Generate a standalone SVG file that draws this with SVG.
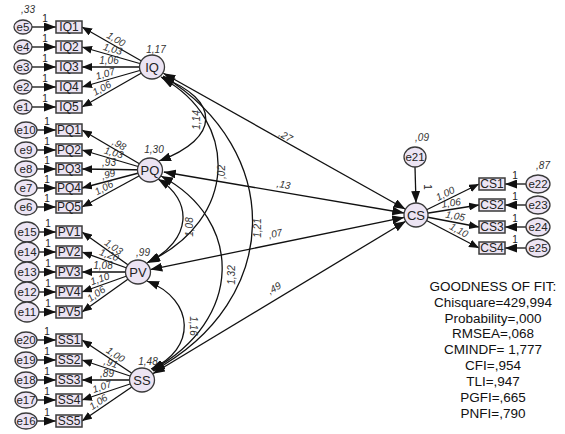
<svg xmlns="http://www.w3.org/2000/svg" width="565" height="434" viewBox="0 0 565 434">
  <style>
    .box { fill: #ECE4F3; stroke: #3a3a3a; stroke-width: 1.5; }
    .lat { fill: #ECE4F3; stroke: #3a3a3a; stroke-width: 1.3; }
    .err { fill: #ECE4F3; stroke: #3a3a3a; stroke-width: 1.3; }
    .lbl { font-family: "Liberation Sans", Arial, sans-serif; font-size: 12px; fill: #222; text-anchor: middle; dominant-baseline: central; }
    .lbl-lat { font-family: "Liberation Sans", Arial, sans-serif; font-size: 13px; fill: #222; text-anchor: middle; dominant-baseline: central; }
    .lbl-err { font-family: "Liberation Sans", Arial, sans-serif; font-size: 11.5px; fill: #222; text-anchor: middle; dominant-baseline: central; }
    .est { font-family: "Liberation Sans", Arial, sans-serif; font-size: 10px; font-style: italic; fill: #333; text-anchor: middle; }
    .one { font-family: "Liberation Sans", Arial, sans-serif; font-size: 10px; fill: #222; text-anchor: middle; }
    .fit { font-family: "Liberation Sans", Arial, sans-serif; font-size: 13.5px; fill: #111; text-anchor: middle; }
    .edge { fill: none; stroke: #111; stroke-width: 1.3; }
  </style>
  <defs>
    <marker id="head" viewBox="0 0 10 8" refX="10" refY="4" markerWidth="10" markerHeight="8" markerUnits="userSpaceOnUse" orient="auto-start-reverse">
      <path d="M0,0 L10,4 L0,8 z" fill="#111"/>
    </marker>
    <marker id="bighead" viewBox="0 0 12 9" refX="12" refY="4.5" markerWidth="12" markerHeight="9" markerUnits="userSpaceOnUse" orient="auto-start-reverse">
      <path d="M0,0 L12,4.5 L0,9 z" fill="#111"/>
    </marker>
  </defs>

  <!-- connectors -->
  <g id="connectors">
    <!-- error -> indicator -->
    <g class="edge" marker-end="url(#bighead)">
      <line x1="32" y1="27" x2="56" y2="27"/>
      <line x1="32" y1="47" x2="56" y2="47"/>
      <line x1="32" y1="67" x2="56" y2="67"/>
      <line x1="32" y1="87" x2="56" y2="87"/>
      <line x1="32" y1="107" x2="56" y2="107"/>
      <line x1="37" y1="130" x2="56" y2="130"/>
      <line x1="37" y1="150" x2="56" y2="150"/>
      <line x1="37" y1="169" x2="56" y2="169"/>
      <line x1="37" y1="188" x2="56" y2="188"/>
      <line x1="37" y1="207" x2="56" y2="207"/>
      <line x1="39" y1="232" x2="56" y2="232"/>
      <line x1="39" y1="252" x2="56" y2="252"/>
      <line x1="39" y1="272" x2="56" y2="272"/>
      <line x1="39" y1="292" x2="56" y2="292"/>
      <line x1="39" y1="312" x2="56" y2="312"/>
      <line x1="37" y1="340" x2="56" y2="340"/>
      <line x1="37" y1="360" x2="56" y2="360"/>
      <line x1="37" y1="380" x2="56" y2="380"/>
      <line x1="37" y1="400" x2="56" y2="400"/>
      <line x1="37" y1="421" x2="56" y2="421"/>
      <line x1="526" y1="184" x2="505" y2="184"/>
      <line x1="526" y1="205" x2="505" y2="205"/>
      <line x1="526" y1="227" x2="505" y2="227"/>
      <line x1="526" y1="248" x2="505" y2="248"/>
      <line x1="415" y1="167" x2="416" y2="203"/>
    </g>
    <!-- latent -> indicator -->
    <g class="edge" marker-end="url(#head)">
      <line x1="152" y1="67" x2="82" y2="27"/>
      <line x1="152" y1="67" x2="82" y2="47"/>
      <line x1="152" y1="67" x2="82" y2="67"/>
      <line x1="152" y1="67" x2="82" y2="87"/>
      <line x1="152" y1="67" x2="82" y2="107"/>
      <line x1="150" y1="170" x2="82" y2="130"/>
      <line x1="150" y1="170" x2="82" y2="150"/>
      <line x1="150" y1="170" x2="82" y2="169"/>
      <line x1="150" y1="170" x2="82" y2="188"/>
      <line x1="150" y1="170" x2="82" y2="207"/>
      <line x1="138" y1="272" x2="82" y2="232"/>
      <line x1="138" y1="272" x2="82" y2="252"/>
      <line x1="138" y1="272" x2="82" y2="272"/>
      <line x1="138" y1="272" x2="82" y2="292"/>
      <line x1="138" y1="272" x2="82" y2="312"/>
      <line x1="142" y1="380" x2="82" y2="340"/>
      <line x1="142" y1="380" x2="82" y2="360"/>
      <line x1="142" y1="380" x2="82" y2="380"/>
      <line x1="142" y1="380" x2="82" y2="400"/>
      <line x1="142" y1="380" x2="82" y2="421"/>
      <line x1="416" y1="215" x2="479" y2="184"/>
      <line x1="416" y1="215" x2="479" y2="205"/>
      <line x1="416" y1="215" x2="479" y2="227"/>
      <line x1="416" y1="215" x2="479" y2="248"/>
    </g>
    <!-- CS <-> latent paths -->
    <g class="edge" marker-start="url(#bighead)" marker-end="url(#bighead)">
      <line x1="405.5" y1="209.2" x2="163.4" y2="73.3"/>
      <line x1="404.2" y1="213.0" x2="163.8" y2="172.0"/>
      <line x1="404.2" y1="217.4" x2="150.3" y2="269.6"/>
      <line x1="405.7" y1="221.2" x2="152.8" y2="373.8"/>
    </g>
    <!-- covariances -->
    <g class="edge" marker-start="url(#bighead)" marker-end="url(#bighead)">
      <path d="M161,77 C221,100 221,138 159,161"/>
      <path d="M162,78 C239,120 239,220 148,262"/>
      <path d="M163,76 C284,150 284,300 153,371"/>
      <path d="M158,179 C193,200 193,240 147,263"/>
      <path d="M161,176 C244,220 244,320 152,370"/>
      <path d="M147,281 C196,300 196,350 151,369"/>
    </g>
    <!-- estimates on connectors -->
    <g class="est">
      <text transform="translate(113,44.7) rotate(29.7)" y="-3">1,00</text>
      <text transform="translate(111,55.3) rotate(15.9)" y="-3">1,03</text>
      <text transform="translate(109,67)" y="-3">1,06</text>
      <text transform="translate(107,79.9) rotate(-15.9)" y="-3">1,07</text>
      <text transform="translate(105,93.9) rotate(-29.7)" y="-3">1,06</text>

      <text transform="translate(116,150) rotate(30.5)" y="-3">,98</text>
      <text transform="translate(112,158.8) rotate(16.4)" y="-3">1,03</text>
      <text transform="translate(109,169)" y="-3">,93</text>
      <text transform="translate(110,180.6) rotate(-14.8)" y="-3">,99</text>
      <text transform="translate(107,193.4) rotate(-28.6)" y="-3">1,06</text>

      <text transform="translate(110,252) rotate(35.5)" y="-3">1,03</text>
      <text transform="translate(107,260.9) rotate(19.7)" y="-3">1,20</text>
      <text transform="translate(103,272)" y="-3">1,08</text>
      <text transform="translate(102,284.9) rotate(-19.7)" y="-3">1,10</text>
      <text transform="translate(100,299.1) rotate(-35.5)" y="-3">1,06</text>

      <text transform="translate(112,360) rotate(33.7)" y="-3">1,00</text>
      <text transform="translate(109,369) rotate(18.4)" y="-3">,91</text>
      <text transform="translate(107,380)" y="-3">,89</text>
      <text transform="translate(104,392.7) rotate(-18.4)" y="-3">1,07</text>
      <text transform="translate(102,407.3) rotate(-34.3)" y="-3">1,06</text>

      <text transform="translate(448,199.3) rotate(-26.2)" y="-3">1,00</text>
      <text transform="translate(452,209.3) rotate(-9)" y="-3">1,06</text>
      <text transform="translate(454,222.2) rotate(10.8)" y="-3">1,05</text>
      <text transform="translate(456,236) rotate(27.6)" y="-3">1,10</text>

      <text transform="translate(284,139) rotate(29)">,27</text>
      <text transform="translate(283,188) rotate(9.6)">,13</text>
      <text transform="translate(276,237) rotate(-11.6)">,07</text>
      <text transform="translate(276,291) rotate(-31)">,49</text>

      <text transform="translate(200,120) rotate(-90)">1,14</text>
      <text transform="translate(225,172) rotate(-90)">,02</text>
      <text transform="translate(261,228) rotate(-90)">1,21</text>
      <text transform="translate(193,227) rotate(-90)">1,08</text>
      <text transform="translate(235,275) rotate(-90)">1,32</text>
      <text transform="translate(190,326) rotate(90)">1,16</text>
    </g>
    <!-- fixed weights -->
    <g class="one">
      <text x="45" y="22">1</text>
      <text x="45" y="42">1</text>
      <text x="45" y="62">1</text>
      <text x="45" y="82">1</text>
      <text x="45" y="102">1</text>
      <text x="47" y="125">1</text>
      <text x="47" y="145">1</text>
      <text x="47" y="164">1</text>
      <text x="47" y="183">1</text>
      <text x="47" y="202">1</text>
      <text x="48" y="227">1</text>
      <text x="48" y="247">1</text>
      <text x="48" y="267">1</text>
      <text x="48" y="287">1</text>
      <text x="48" y="307">1</text>
      <text x="47" y="335">1</text>
      <text x="47" y="355">1</text>
      <text x="47" y="375">1</text>
      <text x="47" y="395">1</text>
      <text x="47" y="416">1</text>
      <text x="515" y="179">1</text>
      <text x="515" y="200">1</text>
      <text x="515" y="222">1</text>
      <text x="515" y="243">1</text>
      <text transform="translate(424,187) rotate(90)">1</text>
    </g>
  </g>

  <!-- indicators -->
  <g id="IQ1"><rect class="box" x="56" y="21" width="26" height="12"/><text class="lbl" x="69" y="27">IQ1</text></g>
  <g id="IQ2"><rect class="box" x="56" y="41" width="26" height="12"/><text class="lbl" x="69" y="47">IQ2</text></g>
  <g id="IQ3"><rect class="box" x="56" y="61" width="26" height="12"/><text class="lbl" x="69" y="67">IQ3</text></g>
  <g id="IQ4"><rect class="box" x="56" y="81" width="26" height="12"/><text class="lbl" x="69" y="87">IQ4</text></g>
  <g id="IQ5"><rect class="box" x="56" y="101" width="26" height="12"/><text class="lbl" x="69" y="107">IQ5</text></g>
  <g id="PQ1"><rect class="box" x="56" y="124" width="26" height="12"/><text class="lbl" x="69" y="130">PQ1</text></g>
  <g id="PQ2"><rect class="box" x="56" y="144" width="26" height="12"/><text class="lbl" x="69" y="150">PQ2</text></g>
  <g id="PQ3"><rect class="box" x="56" y="163" width="26" height="12"/><text class="lbl" x="69" y="169">PQ3</text></g>
  <g id="PQ4"><rect class="box" x="56" y="182" width="26" height="12"/><text class="lbl" x="69" y="188">PQ4</text></g>
  <g id="PQ5"><rect class="box" x="56" y="201" width="26" height="12"/><text class="lbl" x="69" y="207">PQ5</text></g>
  <g id="PV1"><rect class="box" x="56" y="226" width="26" height="12"/><text class="lbl" x="69" y="232">PV1</text></g>
  <g id="PV2"><rect class="box" x="56" y="246" width="26" height="12"/><text class="lbl" x="69" y="252">PV2</text></g>
  <g id="PV3"><rect class="box" x="56" y="266" width="26" height="12"/><text class="lbl" x="69" y="272">PV3</text></g>
  <g id="PV4"><rect class="box" x="56" y="286" width="26" height="12"/><text class="lbl" x="69" y="292">PV4</text></g>
  <g id="PV5"><rect class="box" x="56" y="306" width="26" height="12"/><text class="lbl" x="69" y="312">PV5</text></g>
  <g id="SS1"><rect class="box" x="56" y="334" width="26" height="12"/><text class="lbl" x="69" y="340">SS1</text></g>
  <g id="SS2"><rect class="box" x="56" y="354" width="26" height="12"/><text class="lbl" x="69" y="360">SS2</text></g>
  <g id="SS3"><rect class="box" x="56" y="374" width="26" height="12"/><text class="lbl" x="69" y="380">SS3</text></g>
  <g id="SS4"><rect class="box" x="56" y="394" width="26" height="12"/><text class="lbl" x="69" y="400">SS4</text></g>
  <g id="SS5"><rect class="box" x="56" y="415" width="26" height="12"/><text class="lbl" x="69" y="421">SS5</text></g>
  <g id="CS1"><rect class="box" x="479" y="178" width="26" height="12"/><text class="lbl" x="492" y="184">CS1</text></g>
  <g id="CS2"><rect class="box" x="479" y="199" width="26" height="12"/><text class="lbl" x="492" y="205">CS2</text></g>
  <g id="CS3"><rect class="box" x="479" y="221" width="26" height="12"/><text class="lbl" x="492" y="227">CS3</text></g>
  <g id="CS4"><rect class="box" x="479" y="242" width="26" height="12"/><text class="lbl" x="492" y="248">CS4</text></g>

  <!-- error terms -->
  <g id="e5"><ellipse class="err" cx="23" cy="27" rx="9" ry="7"/><text class="lbl-err" x="23" y="27">e5</text><text class="est" x="28" y="13">,33</text></g>
  <g id="e4"><ellipse class="err" cx="23" cy="47" rx="9" ry="7"/><text class="lbl-err" x="23" y="47">e4</text></g>
  <g id="e3"><ellipse class="err" cx="23" cy="67" rx="9" ry="7"/><text class="lbl-err" x="23" y="67">e3</text></g>
  <g id="e2"><ellipse class="err" cx="23" cy="87" rx="9" ry="7"/><text class="lbl-err" x="23" y="87">e2</text></g>
  <g id="e1"><ellipse class="err" cx="23" cy="107" rx="9" ry="7"/><text class="lbl-err" x="23" y="107">e1</text></g>
  <g id="e10"><ellipse class="err" cx="26" cy="130" rx="11" ry="8"/><text class="lbl-err" x="26" y="130">e10</text></g>
  <g id="e9"><ellipse class="err" cx="26" cy="150" rx="11" ry="8"/><text class="lbl-err" x="26" y="150">e9</text></g>
  <g id="e8"><ellipse class="err" cx="26" cy="169" rx="11" ry="8"/><text class="lbl-err" x="26" y="169">e8</text></g>
  <g id="e7"><ellipse class="err" cx="26" cy="188" rx="11" ry="8"/><text class="lbl-err" x="26" y="188">e7</text></g>
  <g id="e6"><ellipse class="err" cx="26" cy="207" rx="11" ry="8"/><text class="lbl-err" x="26" y="207">e6</text></g>
  <g id="e15"><ellipse class="err" cx="27" cy="232" rx="12" ry="10"/><text class="lbl-err" x="27" y="232">e15</text></g>
  <g id="e14"><ellipse class="err" cx="27" cy="252" rx="12" ry="10"/><text class="lbl-err" x="27" y="252">e14</text></g>
  <g id="e13"><ellipse class="err" cx="27" cy="272" rx="12" ry="10"/><text class="lbl-err" x="27" y="272">e13</text></g>
  <g id="e12"><ellipse class="err" cx="27" cy="292" rx="12" ry="10"/><text class="lbl-err" x="27" y="292">e12</text></g>
  <g id="e11"><ellipse class="err" cx="27" cy="312" rx="12" ry="10"/><text class="lbl-err" x="27" y="312">e11</text></g>
  <g id="e20"><ellipse class="err" cx="26" cy="340" rx="11" ry="8"/><text class="lbl-err" x="26" y="340">e20</text></g>
  <g id="e19"><ellipse class="err" cx="26" cy="360" rx="11" ry="8"/><text class="lbl-err" x="26" y="360">e19</text></g>
  <g id="e18"><ellipse class="err" cx="26" cy="380" rx="11" ry="8"/><text class="lbl-err" x="26" y="380">e18</text></g>
  <g id="e17"><ellipse class="err" cx="26" cy="400" rx="11" ry="8"/><text class="lbl-err" x="26" y="400">e17</text></g>
  <g id="e16"><ellipse class="err" cx="26" cy="421" rx="11" ry="8"/><text class="lbl-err" x="26" y="421">e16</text></g>
  <g id="e22"><ellipse class="err" cx="538" cy="184" rx="12" ry="9"/><text class="lbl-err" x="538" y="184">e22</text><text class="est" x="543" y="169">,87</text></g>
  <g id="e23"><ellipse class="err" cx="538" cy="205" rx="12" ry="9"/><text class="lbl-err" x="538" y="205">e23</text></g>
  <g id="e24"><ellipse class="err" cx="538" cy="227" rx="12" ry="9"/><text class="lbl-err" x="538" y="227">e24</text></g>
  <g id="e25"><ellipse class="err" cx="538" cy="248" rx="12" ry="9"/><text class="lbl-err" x="538" y="248">e25</text></g>
  <g id="e21"><ellipse class="err" cx="415" cy="157" rx="11" ry="10"/><text class="lbl-err" x="415" y="157">e21</text><text class="est" x="422" y="141">,09</text></g>

  <!-- latent constructs -->
  <g id="IQ"><ellipse class="lat" cx="152" cy="67" rx="12.5" ry="12"/><text class="lbl-lat" x="152" y="67">IQ</text><text class="est" x="156" y="53">1,17</text></g>
  <g id="PQ"><ellipse class="lat" cx="150" cy="170" rx="12.5" ry="12"/><text class="lbl-lat" x="150" y="170">PQ</text><text class="est" x="154" y="153">1,30</text></g>
  <g id="PV"><ellipse class="lat" cx="138" cy="272" rx="12.5" ry="12"/><text class="lbl-lat" x="138" y="272">PV</text><text class="est" x="143" y="256">,99</text></g>
  <g id="SS"><ellipse class="lat" cx="142" cy="380" rx="12.5" ry="12"/><text class="lbl-lat" x="142" y="380">SS</text><text class="est" x="148" y="365">1,48</text></g>
  <g id="CS"><ellipse class="lat" cx="416" cy="215" rx="12" ry="12"/><text class="lbl-lat" x="416" y="215">CS</text></g>

  <!-- fit summary -->
  <g id="fit" class="fit">
    <text x="493" y="291">GOODNESS OF FIT:</text>
    <text x="493" y="307">Chisquare=429,994</text>
    <text x="493" y="323">Probability=,000</text>
    <text x="493" y="338">RMSEA=,068</text>
    <text x="493" y="354">CMINDF= 1,777</text>
    <text x="493" y="370">CFI=,954</text>
    <text x="493" y="386">TLI=,947</text>
    <text x="493" y="402">PGFI=,665</text>
    <text x="493" y="418">PNFI=,790</text>
  </g>
</svg>
